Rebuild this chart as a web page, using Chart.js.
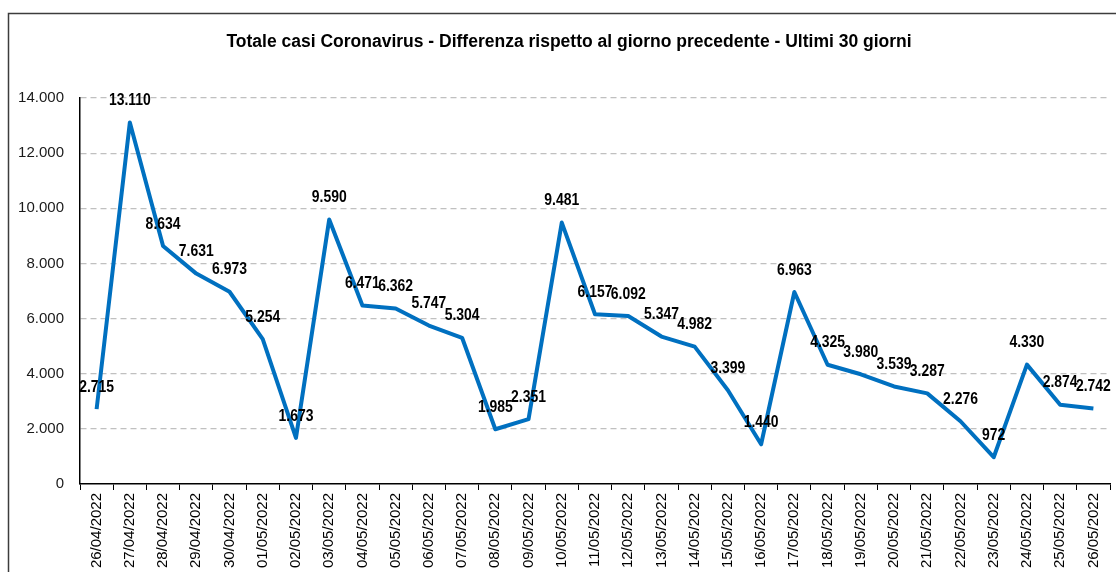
<!DOCTYPE html>
<html>
<head>
<meta charset="utf-8">
<script src="https://cdn.jsdelivr.net/npm/chart.js@4.4.0/dist/chart.umd.min.js"></script>
<style>
  html, body { margin: 0; padding: 0; background: #fff; }
  #wrap { width: 1116px; height: 572px; }
</style>
</head>
<body>
<div id="wrap"><canvas id="lineChart" width="1116" height="572"></canvas></div>
<script>
// dati: differenza giornaliera casi totali
const giorni = [
  '26/04/2022', '27/04/2022', '28/04/2022', '29/04/2022', '30/04/2022', '01/05/2022',
  '02/05/2022', '03/05/2022', '04/05/2022', '05/05/2022', '06/05/2022', '07/05/2022',
  '08/05/2022', '09/05/2022', '10/05/2022', '11/05/2022', '12/05/2022', '13/05/2022',
  '14/05/2022', '15/05/2022', '16/05/2022', '17/05/2022', '18/05/2022', '19/05/2022',
  '20/05/2022', '21/05/2022', '22/05/2022', '23/05/2022', '24/05/2022', '25/05/2022',
  '26/05/2022'
];
const differenze = [
  2715, 13110, 8634, 7631, 6973, 5254, 1673, 9590, 6471, 6362, 5747, 5304,
  1985, 2351, 9481, 6157, 6092, 5347, 4982, 3399, 1440, 6963, 4325, 3980,
  3539, 3287, 2276, 972, 4330, 2874, 2742
];
const tickY = [0, 2000, 4000, 6000, 8000, 10000, 12000, 14000];
const titolo = 'Totale casi Coronavirus - Differenza rispetto al giorno precedente - Ultimi 30 giorni';

const SANS = "'Liberation Sans', Arial, sans-serif";

// separatore migliaia all'italiana
function formatIt(v) {
  return String(v).replace(/\B(?=(\d{3})+(?!\d))/g, '.');
}

// cornice esterna (solo bordo sinistro e superiore visibili) + titolo
const cornice = {
  id: 'cornice',
  beforeDraw(chart) {
    const ctx = chart.ctx;
    ctx.save();
    ctx.fillStyle = '#fff';
    ctx.fillRect(0, 0, chart.width, chart.height);
    ctx.strokeStyle = '#3c3c3c';
    ctx.lineWidth = 1.5;
    ctx.strokeRect(8.5, 13.5, chart.width + 50, chart.height + 50);
    // titolo
    ctx.font = 'bold 17.5px ' + SANS;
    ctx.fillStyle = '#000';
    ctx.textAlign = 'center';
    ctx.textBaseline = 'middle';
    ctx.fillText(titolo, 569, 42);
    ctx.restore();
  }
};

// etichette dei valori sopra ogni punto (testo stretto, tipo Arial Narrow)
const etichette = {
  id: 'etichette',
  afterDatasetsDraw(chart) {
    const ctx = chart.ctx;
    const meta = chart.getDatasetMeta(0);
    ctx.save();
    ctx.font = 'bold 17px ' + SANS;
    ctx.fillStyle = '#000';
    ctx.textAlign = 'center';
    ctx.textBaseline = 'middle';
    meta.data.forEach((pt, i) => {
      ctx.save();
      ctx.translate(pt.x, pt.y - 22);
      ctx.scale(0.82, 1);
      ctx.fillText(formatIt(differenze[i]), 0, 0);
      ctx.restore();
    });
    ctx.restore();
  }
};

const ctx = document.getElementById('lineChart').getContext('2d');
const grafico = new Chart(ctx, {
  type: 'line',
  data: {
    labels: giorni,
    datasets: [{
      label: 'Differenza',
      data: differenze,
      borderColor: '#0070C0',
      borderWidth: 4,
      borderJoinStyle: 'round',
      tension: 0,
      pointRadius: 0,
      fill: false
    }]
  },
  options: {
    responsive: false,
    animation: false,
    layout: { padding: { top: 98, left: 8, right: 6, bottom: 0 } },
    plugins: {
      legend: { display: false },
      tooltip: { enabled: false },
      title: { display: false }
    },
    scales: {
      x: {
        offset: true,
        grid: { display: true, drawOnChartArea: false, drawTicks: true, tickLength: 6, color: '#000', offset: true },
        border: { display: true, color: '#000', width: 1.5 },
        ticks: {
          color: '#000',
          minRotation: 90,
          maxRotation: 90,
          autoSkip: false,
          padding: 3,
          font: { family: SANS, size: 15 }
        },
        afterFit(scale) { scale.height = 88; }
      },
      y: {
        min: 0,
        max: 14000,
        afterBuildTicks(scale) { scale.ticks = tickY.map(v => ({ value: v })); },
        grid: {
          drawTicks: false,
          color: c => (c.tick && c.tick.value === 0 ? 'rgba(0,0,0,0)' : '#c0c0c0'),
          lineWidth: 1.2
        },
        border: { display: true, color: '#000', width: 1.5, dash: [6, 4] },
        ticks: {
          color: '#1a1a1a',
          padding: 16,
          font: { family: SANS, size: 15 },
          callback: v => formatIt(v)
        },
        afterFit(scale) { scale.width = 72; }
      }
    }
  },
  plugins: [cornice, etichette]
});
</script>
</body>
</html>
